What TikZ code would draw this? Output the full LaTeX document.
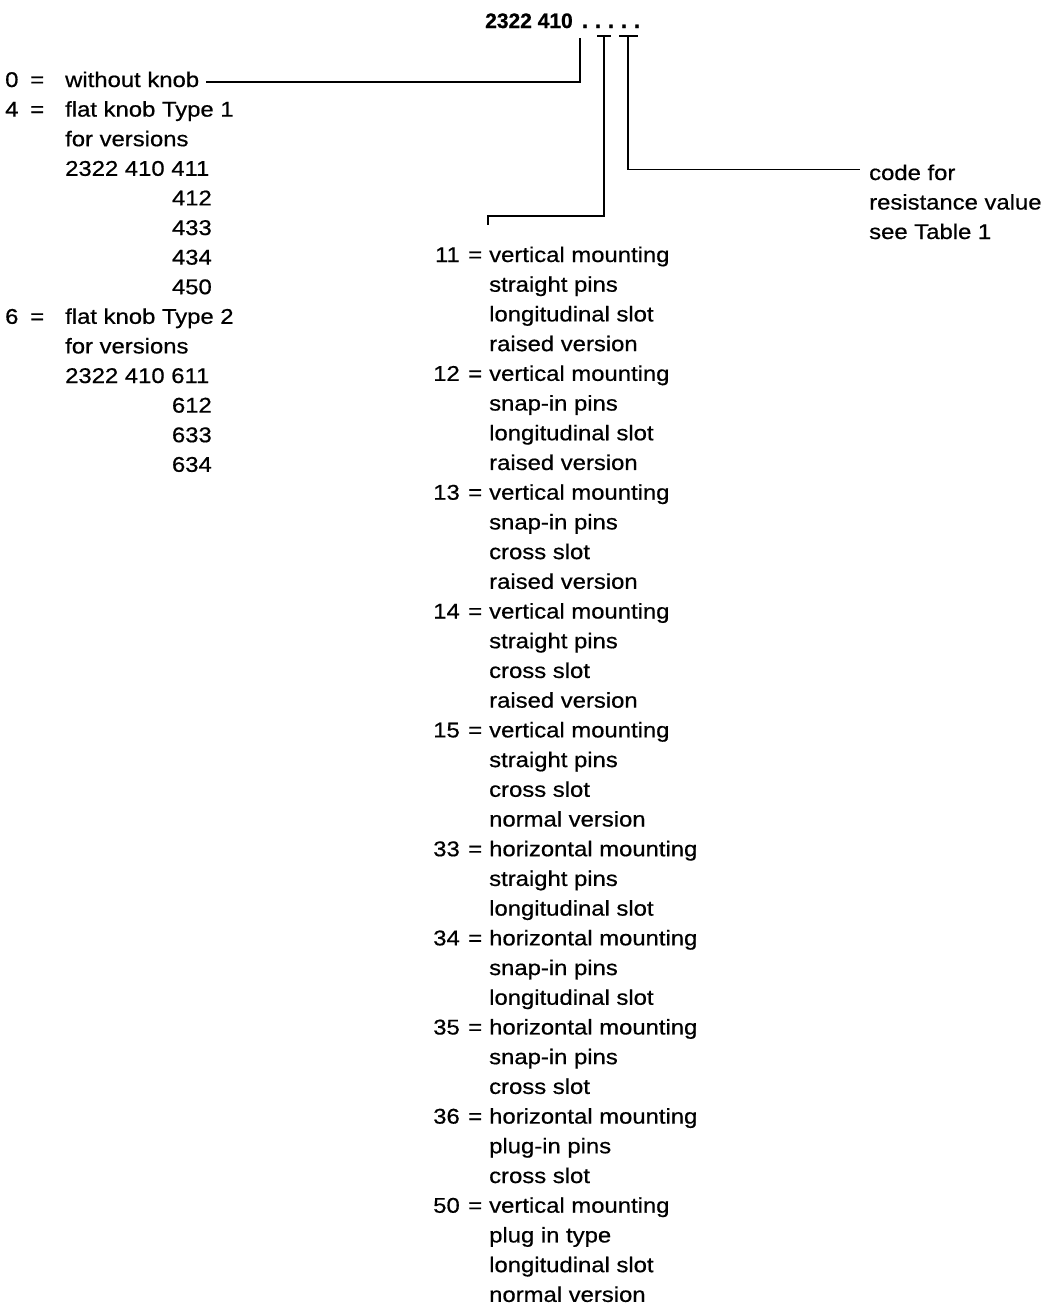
\documentclass[tikz,border=0pt]{standalone}
\usepackage{fontspec}
\setmainfont{Liberation Sans}[FakeStretch=1.12,FakeBold=0.6]
\newfontfamily\titlefont{Liberation Sans}[FakeBold=0.8]
\begin{document}
\begin{tikzpicture}[x=1pt,y=-1pt,
  txt/.style={inner sep=0pt,anchor=base west,font=\fontsize{21.3}{25}\selectfont},
  rtxt/.style={inner sep=0pt,anchor=base east,font=\fontsize{21.3}{25}\selectfont},
  dot/.style={inner sep=0pt,anchor=base,font=\titlefont\bfseries\fontsize{22}{25}\selectfont},
  wire/.style={line width=1.5pt}]
\useasboundingbox (0,0) rectangle (1046,1315);
% title
\node[rtxt,font=\titlefont\bfseries\fontsize{21}{25}\selectfont] (title) at (573,28) {2322 410};
\node[dot] (d1) at (585,28) {.};
\node[dot] (d2) at (598,28) {.};
\node[dot] (d3) at (611,28) {.};
\node[dot] (d4) at (624,28) {.};
\node[dot] (d5) at (637,28) {.};
% left column
\node[txt] (n0) at (5,87) {0};
\node[txt] (e0) at (30,87) {=};
\node[txt] (l0) at (65,87) {without knob};
\node[txt] (n4) at (5,116.6) {4};
\node[txt] (e4) at (30,116.6) {=};
\node[txt] (l1) at (65,116.6) {flat knob Type 1};
\node[txt] (l2) at (65,146.2) {for versions};
\node[txt] (l3) at (65,175.8) {2322 410 411};
\node[rtxt] (l4) at (212,205.4) {412};
\node[rtxt] (l5) at (212,235) {433};
\node[rtxt] (l6) at (212,264.6) {434};
\node[rtxt] (l7) at (212,294.2) {450};
\node[txt] (n6) at (5,323.8) {6};
\node[txt] (e6) at (30,323.8) {=};
\node[txt] (l8) at (65,323.8) {flat knob Type 2};
\node[txt] (l9) at (65,353.4) {for versions};
\node[txt] (l10) at (65,383) {2322 410 611};
\node[rtxt] (l11) at (212,412.6) {612};
\node[rtxt] (l12) at (212,442.2) {633};
\node[rtxt] (l13) at (212,471.8) {634};
% right column
\foreach \num/\k/\lines in {
  11/0/{vertical mounting,straight pins,longitudinal slot,raised version},
  12/4/{vertical mounting,snap-in pins,longitudinal slot,raised version},
  13/8/{vertical mounting,snap-in pins,cross slot,raised version},
  14/12/{vertical mounting,straight pins,cross slot,raised version},
  15/16/{vertical mounting,straight pins,cross slot,normal version},
  33/20/{horizontal mounting,straight pins,longitudinal slot},
  34/23/{horizontal mounting,snap-in pins,longitudinal slot},
  35/26/{horizontal mounting,snap-in pins,cross slot},
  36/29/{horizontal mounting,plug-in pins,cross slot},
  50/32/{vertical mounting,plug in type,longitudinal slot,normal version}}{
  \pgfmathsetmacro{\yy}{262+29.71*\k}
  \node[rtxt] (rn\num) at (460,\yy) {\num};
  \node[txt] (re\num) at (468,\yy) {=};
  \foreach \t [count=\j from 0] in \lines {
    \pgfmathsetmacro{\yl}{262+29.71*(\k+\j)}
    \node[txt] (r\num-\j) at (489,\yl) {\t};
  }
}
% resistance text
\node[txt] (c1) at (869,180) {code for};
\node[txt] (c2) at (869,209.5) {resistance value};
\node[txt] (c3) at (869,239) {see Table 1};
% connectors
\coordinate (b1) at (580,38);
\draw[wire] (b1) |- ([xshift=7pt,yshift=-2.5pt]l0.east);
\coordinate (b2a) at (597,36);
\coordinate (b2b) at (611,36);
\coordinate (b2) at (604,36);
\coordinate (tick) at (488,225);
\draw[wire] (b2a) -- (b2b);
\draw[wire] (b2) -- (604,216) -| (tick);
\coordinate (b3a) at (619,36);
\coordinate (b3b) at (638,36);
\coordinate (b3) at (628,36);
\draw[wire] (b3a) -- (b3b);
\draw[wire] (b3) |- ([xshift=-9pt,yshift=3pt]c1.west);
\end{tikzpicture}
\end{document}
